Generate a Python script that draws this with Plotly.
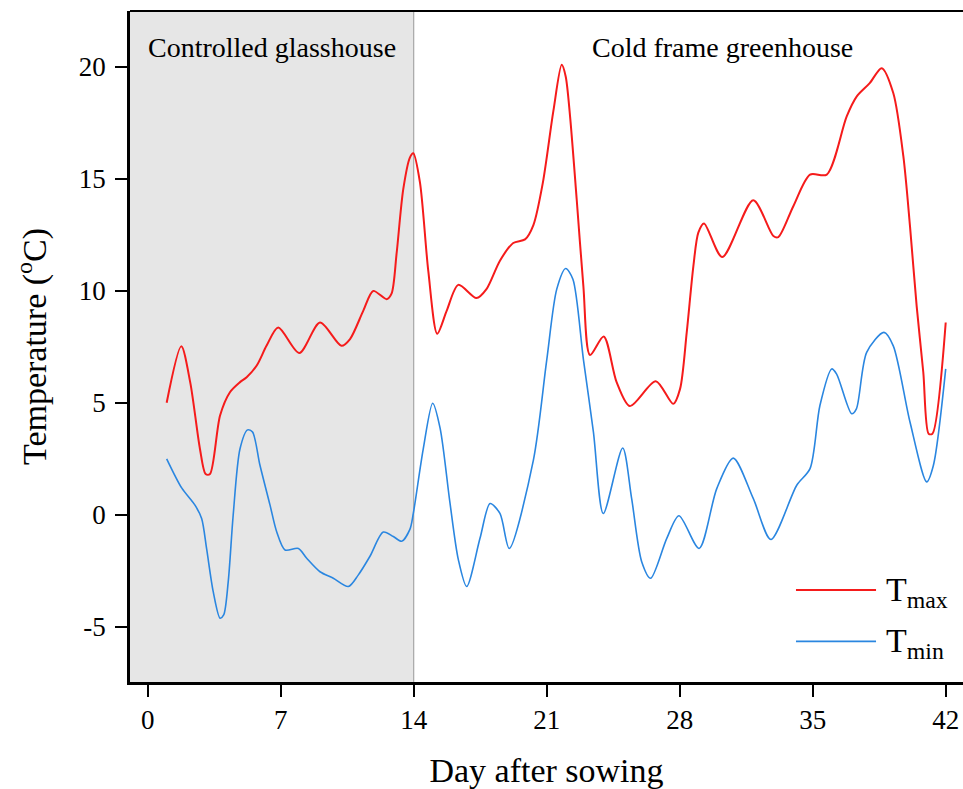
import plotly.graph_objects as go

# ---- data (day after sowing, temperature °C) ----
tmax_day = [1.0, 1.77, 2.24, 2.75, 3.05, 3.28, 3.81, 4.33, 4.86, 5.21, 5.74, 6.26, 6.87, 7.98, 9.07,
            10.2, 10.65, 11.35, 11.87, 12.58, 12.84, 13.1, 13.45, 13.8, 13.98, 14.33, 14.77, 15.24,
            15.74, 16.35, 17.3, 17.83, 18.54, 19.24, 19.86, 20.3, 20.8, 21.35, 21.79, 22.0, 22.23,
            22.58, 22.93, 23.28, 24.0, 24.68, 25.38, 26.74, 27.66, 28.02, 28.37, 28.72, 28.98, 29.28,
            30.24, 31.87, 32.93, 33.19, 33.98, 34.86, 35.74, 36.79, 37.32, 38.0, 38.63, 39.24, 39.77,
            40.12, 40.47, 40.82, 41.1, 41.3, 42.0]
tmax_val = [5.0, 7.52, 5.91, 2.95, 1.82, 1.82, 4.43, 5.47, 5.92, 6.14, 6.66, 7.55, 8.36, 7.22, 8.58,
            7.54, 7.84, 9.11, 9.99, 9.62, 9.88, 11.65, 14.52, 15.94, 16.13, 14.83, 10.87, 8.08,
            9.11, 10.26, 9.67, 10.07, 11.34, 12.13, 12.29, 12.93, 14.83, 18.01, 20.08, 19.56, 17.78,
            14.07, 10.21, 7.13, 7.96, 5.92, 4.85, 5.96, 4.95, 5.62, 8.14, 11.1, 12.59, 13.0,
            11.5, 14.04, 12.44, 12.39, 13.77, 15.18, 15.18, 17.78, 18.67, 19.26, 19.93, 18.82, 16.0,
            12.88, 9.32, 6.36, 3.62, 3.62, 8.58]

tmin_day = [1.0, 1.79, 2.49, 2.84, 3.1, 3.45, 3.81, 4.0, 4.24, 4.5, 4.86, 5.26, 5.52, 5.91, 6.44,
            6.79, 7.23, 7.93, 8.37, 9.07, 9.77, 10.56, 11.08, 11.7, 12.4, 12.93, 13.37, 13.8, 13.98,
            14.5, 15.0, 15.39, 15.91, 16.35, 16.79, 17.49, 18.02, 18.54, 19.03, 20.3, 21.0, 21.53,
            22.0, 22.38, 22.93, 23.46, 23.98, 25.0, 25.47, 26.0, 26.47, 27.32, 27.96, 29.02, 29.95,
            30.82, 31.87, 32.8, 34.16, 34.86, 35.38, 36.0, 36.26, 37.05, 37.3, 37.84, 38.75, 39.24,
            40.12, 41.0, 41.35, 42.0]
tmin_val = [2.5, 1.2, 0.43, -0.16, -1.5, -3.43, -4.61, -4.47, -2.98, -0.02, 2.95, 3.79, 3.69, 2.21, 0.43,
            -0.76, -1.57, -1.5, -1.94, -2.54, -2.83, -3.2, -2.69, -1.85, -0.77, -0.97, -1.18, -0.65, 0.06,
            2.92, 4.98, 3.87, 0.53, -2.0, -3.2, -1.05, 0.5, 0.06, -1.5, 2.44, 6.89, 10.07,
            10.99, 10.51, 6.95, 3.69, 0.06, 2.98, 0.73, -2.09, -2.83, -1.05, -0.04, -1.5, 1.17,
            2.53, 0.73, -1.1, 1.32, 2.06, 4.88, 6.51, 6.28, 4.51, 4.73, 7.25, 8.14, 7.54,
            4.14, 1.47, 2.2, 6.51]

x_ticks = [0, 7, 14, 21, 28, 35, 42]
y_ticks = [-5, 0, 5, 10, 15, 20]
y_tick_labels = ["-5", "0", "5", "10", "15", "20"]
phase_split = 14
phase_labels = ["Controlled glasshouse", "Cold frame greenhouse"]
series_names = ["T<sub>max</sub>", "T<sub>min</sub>"]

RED = "#f51b1b"
BLUE = "#2a86e0"
FONT = "Liberation Serif, Times New Roman, serif"

X0, X1 = -0.93, 42.91
Y0, Y1 = -7.46, 22.48

fig = go.Figure()
fig.add_trace(go.Scatter(x=tmax_day, y=tmax_val, mode="lines", name=series_names[0],
                         line=dict(color=RED, width=2, shape="spline", smoothing=0.8),
                         showlegend=False))
fig.add_trace(go.Scatter(x=tmin_day, y=tmin_val, mode="lines", name=series_names[1],
                         line=dict(color=BLUE, width=1.6, shape="spline", smoothing=0.8),
                         showlegend=False))

shapes = [
    dict(type="rect", xref="x", yref="paper", x0=X0, x1=phase_split, y0=0, y1=1,
         fillcolor="#e6e6e6", line=dict(width=0), layer="below"),
    dict(type="line", xref="x", yref="paper", x0=phase_split, x1=phase_split, y0=0, y1=1,
         line=dict(color="#a6a6a6", width=1.2), layer="below"),
    dict(type="line", xref="paper", yref="paper", x0=0, x1=1, y0=1, y1=1,
         line=dict(color="black", width=2)),
    # legend lines
    dict(type="line", xref="paper", yref="paper", x0=0.7995, x1=0.8956, y0=0.137, y1=0.137,
         line=dict(color=RED, width=2)),
    dict(type="line", xref="paper", yref="paper", x0=0.7995, x1=0.8956, y0=0.0605, y1=0.0605,
         line=dict(color=BLUE, width=1.6)),
]

annotations = [
    dict(x=6.54, y=20.83, xref="x", yref="y", text=phase_labels[0], showarrow=False,
         font=dict(family=FONT, size=28, color="black")),
    dict(x=30.23, y=20.83, xref="x", yref="y", text=phase_labels[1], showarrow=False,
         font=dict(family=FONT, size=28, color="black")),
    dict(x=0.905, y=0.137, xref="paper", yref="paper", text=series_names[0], showarrow=False,
         xanchor="left", yanchor="middle", yshift=-2, font=dict(family=FONT, size=34, color="black")),
    dict(x=0.905, y=0.0605, xref="paper", yref="paper", text=series_names[1], showarrow=False,
         xanchor="left", yanchor="middle", yshift=-2, font=dict(family=FONT, size=34, color="black")),
]

fig.update_layout(
    width=963, height=789,
    margin=dict(l=130, r=0, t=11, b=105, pad=0),
    paper_bgcolor="white", plot_bgcolor="white",
    shapes=shapes, annotations=annotations,
    font=dict(family=FONT, color="black"),
)
fig.update_xaxes(range=[X0, X1], tickvals=x_ticks, ticks="outside", ticklen=12, tickwidth=2,
                 tickcolor="black", showline=True, linecolor="black", linewidth=2.5,
                 showgrid=False, zeroline=False, tickfont=dict(family=FONT, size=27),
                 ticklabelstandoff=0,
                 title=dict(text="Day after sowing", font=dict(family=FONT, size=34), standoff=30))
fig.update_yaxes(range=[Y0, Y1], tickvals=y_ticks, ticktext=y_tick_labels, ticks="outside",
                 ticklen=12, tickwidth=2, tickcolor="black", showline=True, linecolor="black",
                 linewidth=2.5, showgrid=False, zeroline=False, tickfont=dict(family=FONT, size=27),
                 ticklabelstandoff=4,
                 title=dict(text="Temperature (<sup>o</sup>C)", font=dict(family=FONT, size=34), standoff=22))

fig.write_html("out.html")
